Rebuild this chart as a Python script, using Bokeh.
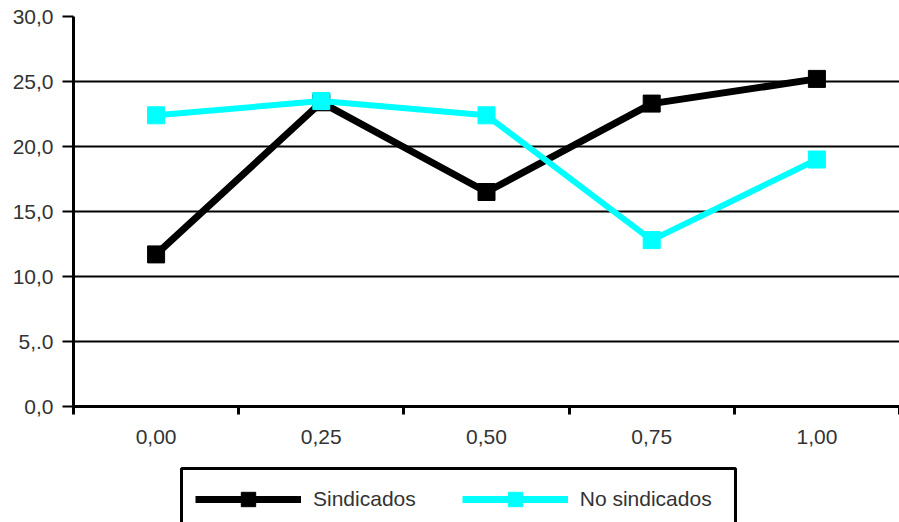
from bokeh.plotting import figure
from bokeh.layouts import column
from bokeh.models import (ColumnDataSource, FixedTicker, Legend, LegendItem,
                          Range1d)
from bokeh.embed import file_html
from bokeh.resources import INLINE

# Data
categories = ["0,00", "0,25", "0,50", "0,75", "1,00"]
sindicados = [11.7, 23.4, 16.5, 23.3, 25.2]
no_sindicados = [22.4, 23.5, 22.4, 12.8, 19.0]
y_ticks = [0, 5, 10, 15, 20, 25, 30]
y_tick_labels = ["0,0", "5,.0", "10,0", "15,0", "20,0", "25,0", "30,0"]

FONT = "Liberation Sans"
TEXT_COLOR = "#333333"
CYAN = "#00FFFF"

# categories sit at the middle of unit-wide slots
xpos = [i + 0.5 for i in range(len(categories))]

src = ColumnDataSource(dict(x=xpos, s=sindicados, n=no_sindicados))

p = figure(width=899, height=455, output_backend="svg", toolbar_location=None,
           x_range=Range1d(0, len(categories)), y_range=Range1d(0, 30),
           min_border_left=73, min_border_right=0, min_border_top=16,
           min_border_bottom=49)
p.outline_line_color = None
p.background_fill_color = "white"
p.border_fill_color = "white"

# Horizontal grid lines
p.xgrid.grid_line_color = None
p.ygrid.grid_line_color = "black"
p.ygrid.grid_line_width = 2
p.ygrid.ticker = FixedTicker(ticks=y_ticks)

# Y axis
p.yaxis.ticker = FixedTicker(ticks=y_ticks)
p.yaxis.major_label_overrides = {t: l for t, l in zip(y_ticks, y_tick_labels)}
p.yaxis.axis_line_width = 3
p.yaxis.major_tick_line_width = 2
p.yaxis.major_tick_in = 0
p.yaxis.major_tick_out = 11
p.yaxis.minor_tick_line_color = None
p.yaxis.major_label_standoff = 9
p.yaxis.major_label_text_font = FONT
p.yaxis.major_label_text_font_size = "21px"
p.yaxis.major_label_text_color = TEXT_COLOR

# X axis: labels at slot centres, ticks at slot boundaries
p.xaxis.ticker = FixedTicker(ticks=xpos,
                             minor_ticks=list(range(len(categories) + 1)))
p.xaxis.major_label_overrides = {x: c for x, c in zip(xpos, categories)}
p.xaxis.axis_line_width = 3
p.xaxis.major_tick_line_color = None
p.xaxis.major_tick_out = 0
p.xaxis.major_tick_in = 0
p.xaxis.minor_tick_line_color = "black"
p.xaxis.minor_tick_line_width = 3
p.xaxis.minor_tick_in = 0
p.xaxis.minor_tick_out = 8
p.xaxis.major_label_standoff = 15
p.xaxis.major_label_text_font = FONT
p.xaxis.major_label_text_font_size = "21px"
p.xaxis.major_label_text_color = TEXT_COLOR

# Series
p.line("x", "s", source=src, line_color="black", line_width=7)
p.scatter("x", "s", source=src, marker="square", size=17,
          fill_color="black", line_color="black")
p.line("x", "n", source=src, line_color=CYAN, line_width=6)
p.scatter("x", "n", source=src, marker="square", size=17,
          fill_color=CYAN, line_color=CYAN)

# Legend strip underneath the chart; its ranges are in page pixels
leg = figure(width=899, height=67, output_backend="svg", toolbar_location=None,
             x_range=Range1d(73, 899), y_range=Range1d(522, 455),
             x_axis_location=None, y_axis_location=None,
             min_border=0)
leg.outline_line_color = None
leg.grid.grid_line_color = None

# legend frame
leg.quad(left=[181], right=[735], top=[468], bottom=[540],
         fill_color="white", line_color="black", line_width=3)

key_src = ColumnDataSource(dict(x=[float("nan")], y=[float("nan")]))
kl1 = leg.line("x", "y", source=key_src, line_color="black", line_width=7)
km1 = leg.scatter("x", "y", source=key_src, marker="square", size=18,
                  fill_color="black", line_color="black")
kl2 = leg.line("x", "y", source=key_src, line_color=CYAN, line_width=7)
km2 = leg.scatter("x", "y", source=key_src, marker="square", size=18,
                  fill_color=CYAN, line_color=CYAN)

legend = Legend(items=[LegendItem(label="Sindicados", renderers=[kl1, km1]),
                       LegendItem(label="No sindicados", renderers=[kl2, km2])],
                orientation="horizontal", location=(122, 5),
                glyph_width=106, glyph_height=36, label_standoff=12,
                spacing=46, padding=0, margin=0,
                border_line_color=None, background_fill_alpha=0,
                label_text_font=FONT, label_text_font_size="21px",
                label_text_color=TEXT_COLOR)
leg.add_layout(legend, "center")

open("out.html", "w").write(file_html(column(p, leg, spacing=0), INLINE))
